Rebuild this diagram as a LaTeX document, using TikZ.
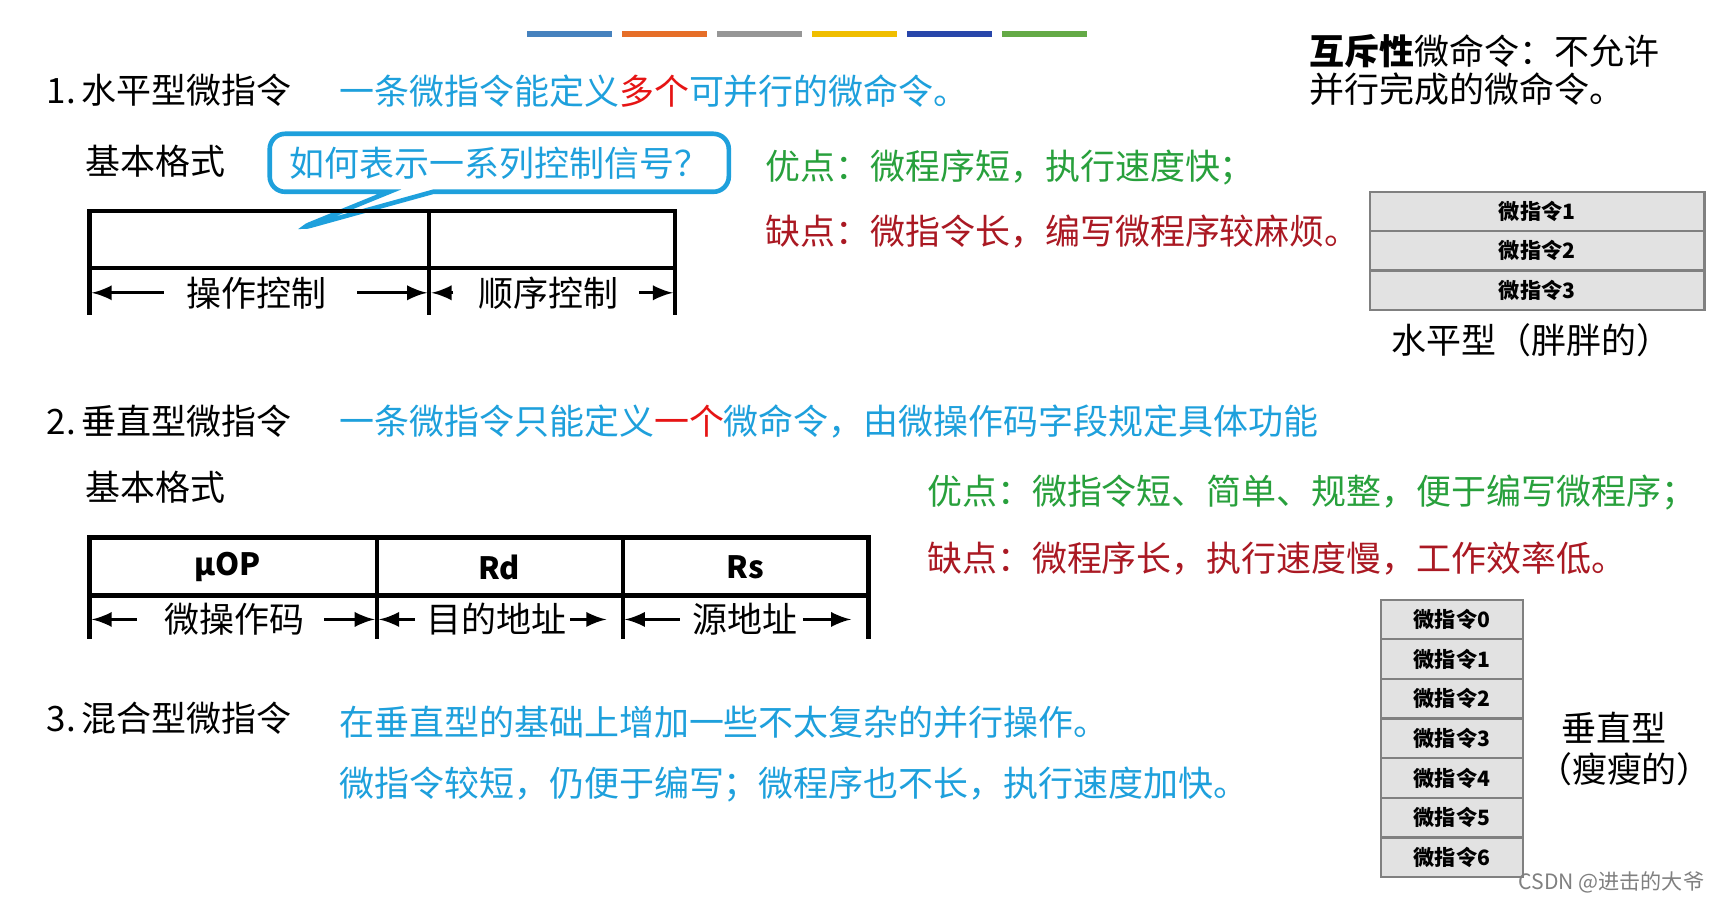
\documentclass[tikz,border=0pt]{standalone}
\usepackage{fontspec}
\setmainfont{Noto Sans CJK SC}
\usetikzlibrary{calc,shapes.callouts}
\definecolor{tblue}{RGB}{30,160,220}
\definecolor{tred}{RGB}{230,20,20}
\definecolor{tgreen}{RGB}{40,160,60}
\definecolor{tdred}{RGB}{170,25,35}
\definecolor{cellfill}{RGB}{226,226,226}
\definecolor{bar0}{RGB}{70,130,190}
\definecolor{bar1}{RGB}{230,110,40}
\definecolor{bar2}{RGB}{150,150,150}
\definecolor{bar3}{RGB}{240,190,0}
\definecolor{bar4}{RGB}{40,70,170}
\definecolor{bar5}{RGB}{100,170,70}
\tikzset{
  txt/.style={anchor=west,inner sep=0pt,font=\fontsize{9.1}{10}\selectfont},
  cell/.style={draw=gray,fill=cellfill,line width=0.6pt,font=\fontsize{5.5}{6}\selectfont\bfseries,inner sep=0pt},
  fmt/.style={line width=1.1pt},
  dim/.style={-latex,line width=0.8pt}
}
\begin{document}
\begin{tikzpicture}[x=0.01cm,y=-0.01cm]
  \path[use as bounding box,fill=white] (0,0) rectangle (1568,826);
  % colour bars
  \foreach \i in {0,...,5}
    \fill[bar\i] ({482+\i*87},28) rectangle ++(78,6);
  % top right
  \node[txt] (mutex) at (1198,47) {\textbf{互斥性}微命令：不允许};
  \node[txt] (mutex2) at (1198,82) {并行完成的微命令。};
  % 1
  \node[txt] (h1) at (42,83) {1.\,水平型微指令};
  \node[txt,text=tblue] (d1) at (310,83) {一条微指令能定义\textcolor{tred}{多个}可并行的微命令。};
  \node[txt] (b1) at (78,148) {基本格式};
  \node[rectangle callout,draw=tblue,line width=1.2pt,rounded corners=4pt,fill=white,
        minimum width=4.2cm,minimum height=0.5cm,callout absolute pointer={(272,210)},
        callout pointer width=0.4cm,font=\fontsize{9.1}{10}\selectfont,text=tblue] (ask) at (457,149) {如何表示一系列控制信号？};
  \node[txt,text=tgreen] (p1) at (700,153) {优点：微程序短，执行速度快；};
  \node[txt,text=tdred] (m1) at (700,212) {缺点：微指令长，编写微程序较麻烦。};
  \coordinate (fa) at (82,193); \coordinate (fb) at (393,193);
  \draw[fmt] (fa) rectangle (618,245);
  \draw[fmt] (fb) -- (393,288);
  \draw[fmt] (82,245) -- (82,288);
  \draw[fmt] (618,245) -- (618,288);
  \node[txt] (op) at (170,268) {操作控制};
  \node[txt] (seq) at (437,268) {顺序控制};
  \draw[dim] (150,268) -- (84,268);
  \draw[dim] (327,268) -- (391,268);
  \draw[dim] (415,268) -- (395,268);
  \draw[dim] (585,268) -- (616,268);
  % horizontal table
  \foreach \t [count=\i from 0] in {1,2,3}
    \node[cell,minimum width=3.06cm,minimum height=0.36cm] (hc\i) at (1407,{193.5+\i*36}) {微指令\t};
  \node[font=\fontsize{9.1}{10}\selectfont] (hlab) at (1402,311) {水平型（胖胖的）};
  % 2
  \node[txt] (h2) at (42,386) {2.\,垂直型微指令};
  \node[txt,text=tblue] (d2) at (310,386) {一条微指令只能定义\textcolor{tred}{一个}微命令，由微操作码字段规定具体功能};
  \node[txt] (b2) at (78,446) {基本格式};
  \node[txt,text=tgreen] (p2) at (848,451) {优点：微指令短、简单、规整，便于编写微程序；};
  \node[txt,text=tdred] (m2) at (848,511) {缺点：微程序长，执行速度慢，工作效率低。};
  \draw[fmt] (82,492) rectangle (795,545);
  \draw[fmt] (345,492) -- (345,585);
  \draw[fmt] (570,492) -- (570,585);
  \draw[fmt] (82,545) -- (82,585);
  \draw[fmt] (795,545) -- (795,585);
  \node[font=\fontsize{8}{10}\selectfont\bfseries] (uop) at (208,519) {µOP};
  \node[font=\fontsize{8}{10}\selectfont\bfseries] (rd) at (457,519) {Rd};
  \node[font=\fontsize{8}{10}\selectfont\bfseries] (rs) at (682,519) {Rs};
  \node[txt] (opc) at (150,567) {微操作码};
  \node[txt] (dst) at (390,567) {目的地址};
  \node[txt] (src) at (633,567) {源地址};
  \draw[dim] (125,567) -- (84,567);
  \draw[dim] (297,567) -- (343,567);
  \draw[dim] (380,567) -- (347,567);
  \draw[dim] (522,567) -- (555,567);
  \draw[dim] (622,567) -- (572,567);
  \draw[dim] (735,567) -- (779,567);
  % 3
  \node[txt] (h3) at (42,657) {3.\,混合型微指令};
  \node[txt,text=tblue] (d3) at (310,661) {在垂直型的基础上增加一些不太复杂的并行操作。};
  \node[txt,text=tblue] (e3) at (310,718) {微指令较短，仍便于编写；微程序也不长，执行速度加快。};
  % vertical table
  \foreach \i in {0,...,6}
    \node[cell,minimum width=1.3cm,minimum height=0.362cm] (vc\i) at (1329,{567+\i*36.3}) {微指令\i};
  \node[font=\fontsize{9.1}{10}\selectfont] (vlab) at (1477,666) {垂直型};
  \node[font=\fontsize{9.1}{10}\selectfont] (vlab2) at (1487,704) {（瘦瘦的）};
  \node[font=\fontsize{5.5}{6}\selectfont,text=gray] (mark) at (1475,808) {CSDN @进击的大爷};
\end{tikzpicture}
\end{document}
